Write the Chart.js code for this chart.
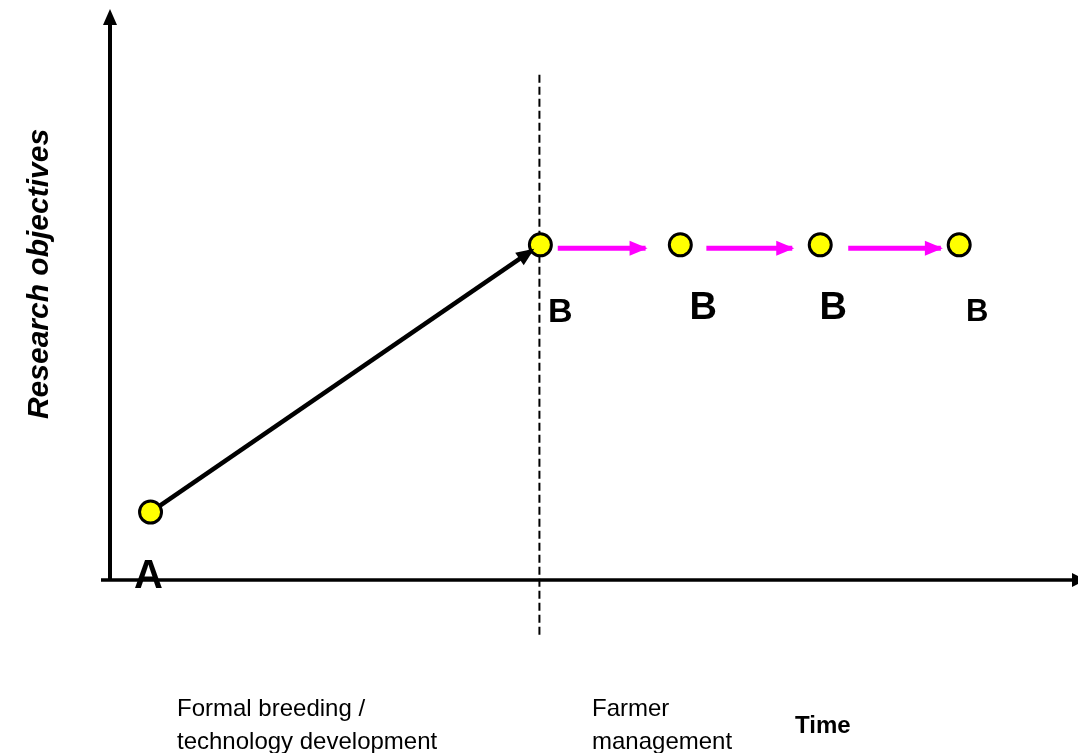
<!DOCTYPE html>
<html>
<head>
<meta charset="utf-8">
<script src="https://cdn.jsdelivr.net/npm/chart.js@4.4.1/dist/chart.umd.min.js"></script>
<style>
  html, body { margin: 0; padding: 0; background: #fff; }
  #wrap { width: 1078px; height: 753px; }
</style>
</head>
<body>
<div id="wrap"><canvas id="chart"></canvas></div>
<script>
// Stage points (A, then the B series along the farmer phase)
const pointLabels = ["A", "B", "B", "B", "B"];
const pointX = [0.42, 4.46, 5.91, 7.36, 8.80];
const pointY = [1.19, 5.87, 5.87, 5.87, 5.87];

// Black arrow: from A to B (tip)
const blackArrowX = [0.42, 4.38];
const blackArrowY = [1.19, 5.78];

// Magenta arrows between the B points: [start, tip]
const magentaArrowsX = [[4.64, 5.55], [6.18, 7.07], [7.65, 8.61]];
const magentaArrowY = 5.81;

// Vertical split between the two phases
const dividerX = 4.45;
const dividerY = [-0.96, 8.9];

// Axis texts
const yTitle = "Research objectives";
const xTitle = "Time";
const phaseLabels = [["Formal breeding /", "technology development"], ["Farmer", "management"]];

const toXY = (xs, ys) => xs.map((x, i) => ({ x: x, y: Array.isArray(ys) ? ys[i] : ys }));

const datasets = [
  {
    label: "stages",
    data: toXY(pointX, pointY),
    pointRadius: 11,
    pointHoverRadius: 11,
    pointBackgroundColor: "#ffff00",
    pointBorderColor: "#000",
    pointBorderWidth: 3,
    showLine: false,
    order: 0
  },
  {
    label: "breeding",
    data: toXY(blackArrowX, blackArrowY),
    showLine: true,
    borderColor: "#000",
    borderWidth: 4.5,
    pointRadius: 0,
    order: 2,
    arrow: "#000"
  },
  {
    label: "divider",
    data: toXY([dividerX, dividerX], dividerY),
    showLine: true,
    borderColor: "#000",
    borderWidth: 2,
    borderDash: [8, 4],
    pointRadius: 0,
    order: 3
  }
];
magentaArrowsX.forEach((xs, i) => {
  datasets.push({
    label: "farmer" + i,
    data: toXY(xs, magentaArrowY),
    showLine: true,
    borderColor: "#ff00ff",
    borderWidth: 5,
    pointRadius: 0,
    order: 1,
    arrow: "#ff00ff"
  });
});

// draw axes, arrowheads and text
const diagramPlugin = {
  id: "diagram",
  beforeDatasetsDraw(chart) {
    const ctx = chart.ctx;
    const xs = chart.scales.x, ys = chart.scales.y;
    const x0 = xs.getPixelForValue(0), y0 = ys.getPixelForValue(0);
    const top = ys.getPixelForValue(10);
    ctx.save();
    ctx.strokeStyle = "#000";
    ctx.fillStyle = "#000";
    ctx.lineWidth = 4;
    // y axis
    ctx.beginPath();
    ctx.moveTo(x0, y0);
    ctx.lineTo(x0, top + 12);
    ctx.stroke();
    ctx.beginPath();
    ctx.moveTo(x0, top);
    ctx.lineTo(x0 - 7, top + 16);
    ctx.lineTo(x0 + 7, top + 16);
    ctx.closePath();
    ctx.fill();
    // x axis
    ctx.lineWidth = 3.5;
    ctx.beginPath();
    ctx.moveTo(x0 - 9, y0);
    ctx.lineTo(1078, y0);
    ctx.stroke();
    ctx.beginPath();
    ctx.moveTo(1086, y0);
    ctx.lineTo(1072, y0 - 7);
    ctx.lineTo(1072, y0 + 7);
    ctx.closePath();
    ctx.fill();
    ctx.restore();
  },
  afterDatasetsDraw(chart) {
    const ctx = chart.ctx;
    const xs = chart.scales.x, ys = chart.scales.y;
    ctx.save();
    // arrowheads
    chart.data.datasets.forEach(ds => {
      if (!ds.arrow) return;
      const a = ds.data[ds.data.length - 2], b = ds.data[ds.data.length - 1];
      const ax = xs.getPixelForValue(a.x), ay = ys.getPixelForValue(a.y);
      const bx = xs.getPixelForValue(b.x), by = ys.getPixelForValue(b.y);
      const ang = Math.atan2(by - ay, bx - ax);
      const len = 16, hw = 7.5;
      ctx.fillStyle = ds.arrow;
      ctx.beginPath();
      ctx.moveTo(bx + Math.cos(ang) * 2, by + Math.sin(ang) * 2);
      ctx.lineTo(bx - len * Math.cos(ang) + hw * Math.sin(ang), by - len * Math.sin(ang) - hw * Math.cos(ang));
      ctx.lineTo(bx - len * Math.cos(ang) - hw * Math.sin(ang), by - len * Math.sin(ang) + hw * Math.cos(ang));
      ctx.closePath();
      ctx.fill();
    });

    // point letters
    const letterOffsets = [[-2, 0], [20, 68], [23, 64], [13, 64], [18, 68]];
    const letterSizes = [40, 34, 38, 38, 31];
    ctx.fillStyle = "#000";
    ctx.textAlign = "center";
    ctx.textBaseline = "middle";
    pointLabels.forEach((t, i) => {
      const px = xs.getPixelForValue(pointX[i]) + letterOffsets[i][0];
      const py = (i === 0 ? ys.getPixelForValue(0) - 3 : ys.getPixelForValue(pointY[i]) + letterOffsets[i][1]);
      ctx.font = "bold " + letterSizes[i] + "px 'Liberation Sans', Arial, sans-serif";
      ctx.fillText(t, px, py);
    });

    // y title
    ctx.save();
    ctx.translate(40, 274);
    ctx.rotate(-Math.PI / 2);
    ctx.font = "italic bold 30px 'Liberation Sans', Arial, sans-serif";
    ctx.fillText(yTitle, 0, 0);
    ctx.restore();

    // phase labels
    ctx.textAlign = "left";
    ctx.font = "24px 'Liberation Sans', Arial, sans-serif";
    const phaseX = [177, 592];
    phaseLabels.forEach((lines, i) => {
      lines.forEach((ln, j) => ctx.fillText(ln, phaseX[i], 709 + j * 33));
    });
    ctx.font = "bold 24px 'Liberation Sans', Arial, sans-serif";
    ctx.fillText(xTitle, 795, 726);
    ctx.restore();
  }
};

new Chart(document.getElementById("chart"), {
  type: "scatter",
  data: { datasets: datasets },
  options: {
    responsive: true,
    maintainAspectRatio: false,
    animation: false,
    layout: { autoPadding: false, padding: { left: 110, right: 3, top: 9, bottom: 173 } },
    plugins: { legend: { display: false }, tooltip: { enabled: false } },
    scales: {
      x: { type: "linear", min: 0, max: 10, display: false },
      y: { type: "linear", min: 0, max: 10, display: false }
    },
    elements: { line: { tension: 0, borderCapStyle: "butt" } },
    clip: false
  },
  plugins: [diagramPlugin]
});
</script>
</body>
</html>
